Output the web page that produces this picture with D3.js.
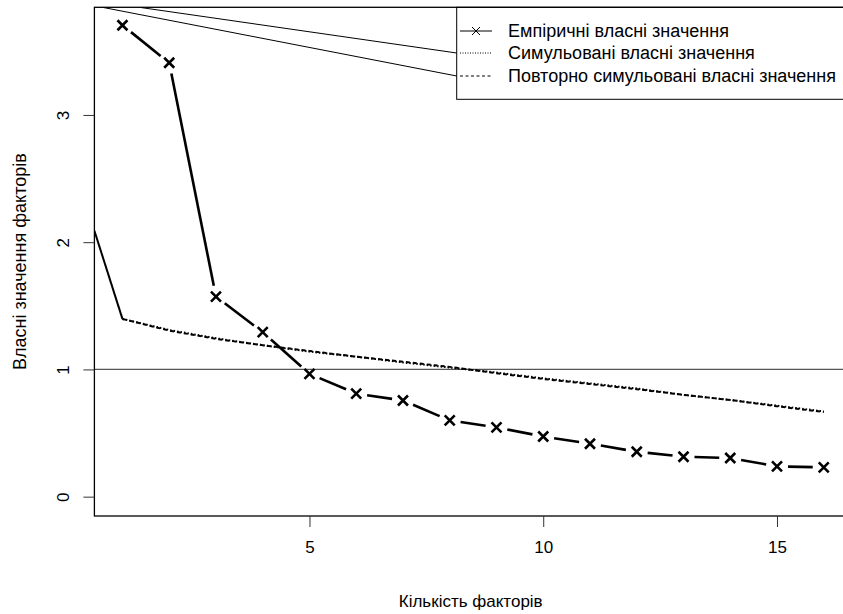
<!DOCTYPE html>
<html>
<head>
<meta charset="utf-8">
<script src="https://cdn.jsdelivr.net/npm/d3@7"></script>
<style>
  html, body { margin: 0; padding: 0; background: #fff; }
  svg { display: block; font-family: "Liberation Sans", Arial, sans-serif; }
</style>
</head>
<body>
<svg id="chart" width="843" height="614"></svg>
<script>
// ---------- data ----------
const factors = [1,2,3,4,5,6,7,8,9,10,11,12,13,14,15,16];
const empirical = [3.705,3.41,1.572,1.293,0.965,0.81,0.756,0.599,0.544,0.473,0.416,0.353,0.314,0.304,0.238,0.230];
const simulated = [1.397,1.31,1.245,1.19,1.14,1.10,1.055,1.015,0.975,0.93,0.89,0.85,0.80,0.76,0.715,0.67];
const resampled = [1.397,1.305,1.24,1.19,1.145,1.10,1.06,1.02,0.97,0.925,0.885,0.845,0.80,0.76,0.71,0.665];
const leadX = [0.4, 1];
const leadY = [2.09, 1.397];
const connectorStartX = [1.36, 0.57];   // where the stray connector lines leave the plot top
const xTicks = [5,10,15];
const yTicks = [0,1,2,3];
const refLine = 1;
const legendLabels = ["Емпіричні власні значення","Симульовані власні значення","Повторно симульовані власні значення"];
const xTitle = "Кількість факторів";
const yTitle = "Власні значення факторів";

// ---------- layout ----------
const svg = d3.select("#chart");
const x = d3.scaleLinear().domain([0.4, 16.6]).range([94.4, 851.8]);
const y = d3.scaleLinear().domain([-0.152, 3.846]).range([516, 7.3]);
const [X0, X1] = x.range();
const [Y0, Y1] = y.range();

svg.append("defs").append("clipPath").attr("id","clip")
  .append("rect").attr("x", X0).attr("y", Y1).attr("width", X1 - X0).attr("height", Y0 - Y1);

const plot = svg.append("g").attr("clip-path","url(#clip)");

// reference line at 1
plot.append("line")
  .attr("x1", X0).attr("x2", X1).attr("y1", y(refLine)).attr("y2", y(refLine))
  .attr("stroke","#555").attr("stroke-width",1.3);

// lead-in segment
plot.append("path")
  .attr("d", d3.line().x((d,i)=>x(leadX[i])).y(d=>y(d))(leadY))
  .attr("fill","none").attr("stroke","#000").attr("stroke-width",2);

// simulated (dotted) and resampled (dashed)
const line = d3.line().x((d,i)=>x(factors[i])).y(d=>y(d));
plot.append("path").attr("d", line(simulated))
  .attr("fill","none").attr("stroke","#000").attr("stroke-width",2).attr("stroke-dasharray","1.5,2");
plot.append("path").attr("d", line(resampled))
  .attr("fill","none").attr("stroke","#000").attr("stroke-width",2).attr("stroke-dasharray","4,3");

// empirical: type "b" with gaps around points
const gap = 11;
const segs = [];
for (let i = 0; i < factors.length - 1; i++) {
  const ax = x(factors[i]), ay = y(empirical[i]);
  const bx = x(factors[i+1]), by = y(empirical[i+1]);
  const len = Math.hypot(bx-ax, by-ay);
  if (len <= 2*gap) continue;
  const ux = (bx-ax)/len, uy = (by-ay)/len;
  segs.push([ax+ux*gap, ay+uy*gap, bx-ux*gap, by-uy*gap]);
}
plot.selectAll("line.seg").data(segs).join("line").attr("class","seg")
  .attr("x1",d=>d[0]).attr("y1",d=>d[1]).attr("x2",d=>d[2]).attr("y2",d=>d[3])
  .attr("stroke","#000").attr("stroke-width",2.6);

const ms = 5;
const crossPath = (cx, cy, r) => `M${cx-r},${cy-r}L${cx+r},${cy+r}M${cx-r},${cy+r}L${cx+r},${cy-r}`;
plot.selectAll("path.pt").data(empirical).join("path").attr("class","pt")
  .attr("d",(d,i)=>crossPath(x(factors[i]), y(d), ms))
  .attr("stroke","#000").attr("stroke-width",2.6).attr("fill","none");

// ---------- legend ----------
const legX = 456.7, legY = Y1, legH = 92, legW = 420;
const rowY = [31, 53, 76];
const legLineX0 = 460, legLineX1 = 492, legTextX = 508;

// stray connector lines from plot top to legend lines
plot.selectAll("line.conn").data(connectorStartX).join("line").attr("class","conn")
  .attr("x1", d => x(d)).attr("y1", Y1)
  .attr("x2", legX).attr("y2", (d,i) => rowY[i+1])
  .attr("stroke","#000").attr("stroke-width",1);

const leg = svg.append("g");
leg.append("rect").attr("x",legX).attr("y",legY).attr("width",legW).attr("height",legH)
  .attr("fill","none").attr("stroke","#000").attr("stroke-width",1);
const dashes = [null, "1,1.5", "3,2.5"];
leg.selectAll("line.ll").data(legendLabels).join("line").attr("class","ll")
  .attr("x1",legLineX0).attr("x2",legLineX1).attr("y1",(d,i)=>rowY[i]).attr("y2",(d,i)=>rowY[i])
  .attr("stroke","#000").attr("stroke-width",1).attr("stroke-dasharray",(d,i)=>dashes[i]);
leg.append("path").attr("d", crossPath((legLineX0+legLineX1)/2, rowY[0], 4))
  .attr("stroke","#000").attr("stroke-width",1).attr("fill","none");
leg.selectAll("text").data(legendLabels).join("text")
  .attr("x",legTextX).attr("y",(d,i)=>rowY[i]).attr("dy","0.35em")
  .attr("font-size",18).text(d=>d);

// ---------- frame & axes ----------
svg.append("rect").attr("x",X0).attr("y",Y1).attr("width",X1-X0).attr("height",Y0-Y1)
  .attr("fill","none").attr("stroke","#000").attr("stroke-width",1.3);

const xAxis = d3.axisBottom(x).tickValues(xTicks).tickSize(11).tickPadding(14).tickFormat(d3.format("d"));
const gx = svg.append("g").attr("transform",`translate(0,${Y0})`).call(xAxis);
gx.select(".domain").remove();
gx.selectAll("text").attr("font-size",17).attr("font-family","Liberation Sans, Arial, sans-serif").attr("fill","#000");
gx.selectAll("line").attr("stroke","#333");

const yAxis = d3.axisLeft(y).tickValues(yTicks).tickSize(11).tickFormat(d3.format("d"));
const gy = svg.append("g").attr("transform",`translate(${X0},0)`).call(yAxis);
gy.select(".domain").remove();
gy.selectAll("line").attr("stroke","#333");
gy.selectAll("text").remove();
gy.selectAll(".tick").append("text")
  .attr("transform","translate(-31,0) rotate(-90)")
  .attr("text-anchor","middle").attr("dy","0.35em")
  .attr("font-size",17).attr("fill","#000").text(d=>d);

svg.append("text").attr("x",(X0+843)/2 + 2).attr("y",601).attr("dy","0.35em")
  .attr("text-anchor","middle").attr("font-size",17).text(xTitle);
svg.append("text").attr("transform",`translate(20,${(Y0+Y1)/2}) rotate(-90)`)
  .attr("dy","0.35em").attr("text-anchor","middle").attr("font-size",18).text(yTitle);
</script>
</body>
</html>
